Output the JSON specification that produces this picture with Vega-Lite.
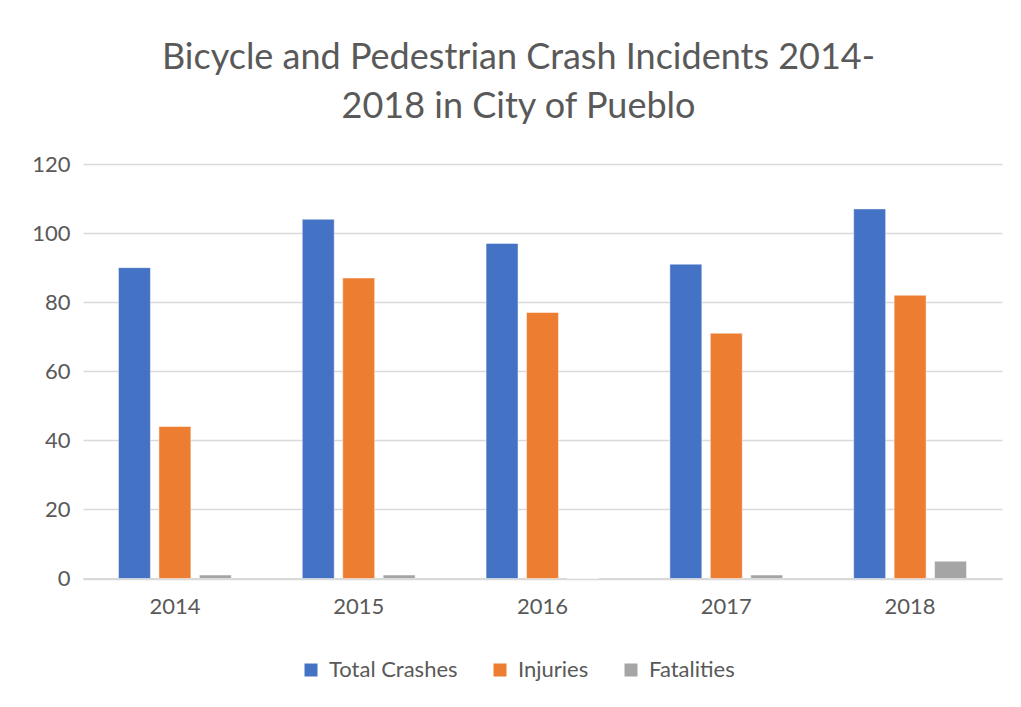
{
  "$schema": "https://vega.github.io/schema/vega-lite/v6.json",
  "autosize": "none",
  "width": 919,
  "height": 414.5,
  "padding": {"left": 83, "top": 164, "right": 19, "bottom": 128.5},
  "background": "white",
  "title": {
    "text": ["Bicycle and Pedestrian Crash Incidents 2014-", "2018 in City of Pueblo"],
    "font": "Lato",
    "fontSize": 36,
    "fontWeight": "normal",
    "color": "#595959",
    "anchor": "middle",
    "frame": "group",
    "dx": -24,
    "lineHeight": 49,
    "baseline": "alphabetic",
    "offset": -1
  },
  "data": {
    "values": [
      {"year": "2014", "series": "Total Crashes", "value": 90},
      {"year": "2014", "series": "Injuries", "value": 44},
      {"year": "2014", "series": "Fatalities", "value": 1},
      {"year": "2015", "series": "Total Crashes", "value": 104},
      {"year": "2015", "series": "Injuries", "value": 87},
      {"year": "2015", "series": "Fatalities", "value": 1},
      {"year": "2016", "series": "Total Crashes", "value": 97},
      {"year": "2016", "series": "Injuries", "value": 77},
      {"year": "2016", "series": "Fatalities", "value": 0},
      {"year": "2017", "series": "Total Crashes", "value": 91},
      {"year": "2017", "series": "Injuries", "value": 71},
      {"year": "2017", "series": "Fatalities", "value": 1},
      {"year": "2018", "series": "Total Crashes", "value": 107},
      {"year": "2018", "series": "Injuries", "value": 82},
      {"year": "2018", "series": "Fatalities", "value": 5}
    ]
  },
  "mark": {"type": "bar", "stroke": "white", "strokeWidth": 0.8, "strokeOpacity": 0.6},
  "encoding": {
    "x": {
      "field": "year",
      "type": "nominal",
      "scale": {"paddingInner": 0.386, "paddingOuter": 0.193},
      "axis": {
        "title": null,
        "labelAngle": 0,
        "labelFont": "Lato",
        "labelFontSize": 22,
        "labelColor": "#595959",
        "labelPadding": 18,
        "ticks": false,
        "domainColor": "#d9d9d9",
        "domainWidth": 2,
        "grid": false
      }
    },
    "xOffset": {
      "field": "series",
      "type": "nominal",
      "sort": ["Total Crashes", "Injuries", "Fatalities"],
      "scale": {"paddingInner": 0.21, "paddingOuter": 0}
    },
    "y": {
      "field": "value",
      "type": "quantitative",
      "scale": {"domain": [0, 120], "nice": false},
      "axis": {
        "title": null,
        "values": [0, 20, 40, 60, 80, 100, 120],
        "labelFont": "Lato",
        "labelFontSize": 22,
        "labelColor": "#595959",
        "labelPadding": 13,
        "ticks": false,
        "domain": false,
        "gridColor": "#d9d9d9",
        "gridWidth": 1.5
      }
    },
    "color": {
      "field": "series",
      "type": "nominal",
      "sort": ["Total Crashes", "Injuries", "Fatalities"],
      "scale": {
        "domain": ["Total Crashes", "Injuries", "Fatalities"],
        "range": ["#4472C4", "#ED7D31", "#A5A5A5"]
      },
      "legend": {
        "title": null,
        "orient": "none",
        "direction": "horizontal",
        "legendX": 217,
        "legendY": 495,
        "symbolType": "square",
        "symbolSize": 169,
        "symbolStrokeWidth": 0,
        "labelFont": "Lato",
        "labelFontSize": 22,
        "labelColor": "#595959",
        "labelOffset": 7,
        "columnPadding": 31
      }
    }
  },
  "config": {
    "view": {"stroke": null}
  }
}
